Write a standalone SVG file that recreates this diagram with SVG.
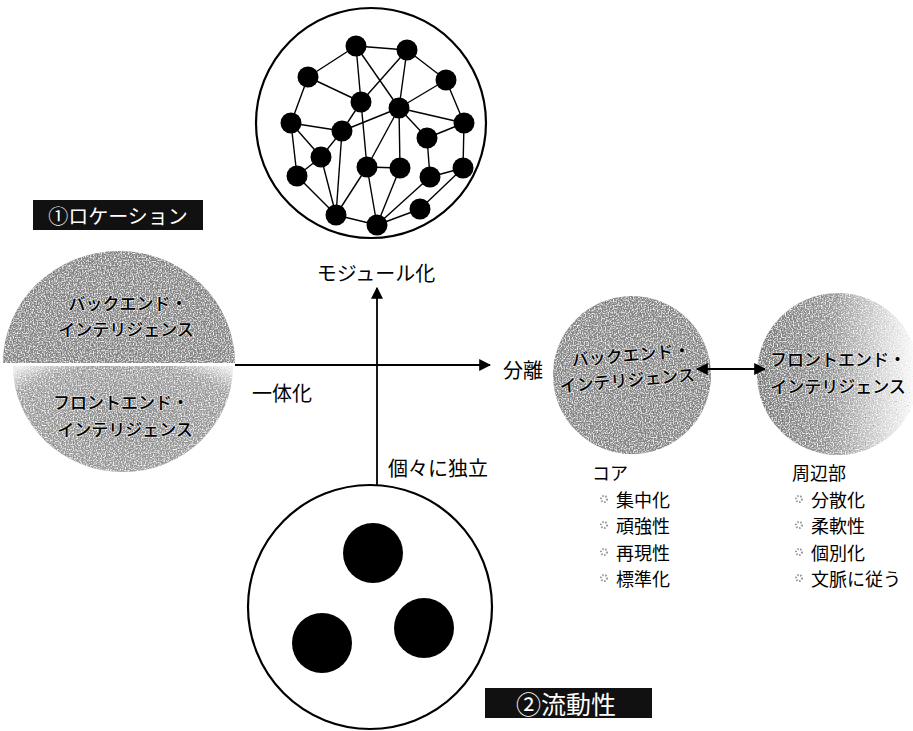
<svg xmlns="http://www.w3.org/2000/svg" width="913" height="731" viewBox="0 0 913 731">
<defs>
<style>
text{font-family:"Noto Sans CJK JP","Noto Sans",sans-serif;fill:#000}
.lbl{font-size:20px;text-anchor:middle;dominant-baseline:central}
.in{font-size:17px;text-anchor:middle;dominant-baseline:central;font-weight:500;paint-order:stroke;stroke:#fff;stroke-width:1.6px;stroke-opacity:0.55}
.li{font-size:18px;dominant-baseline:central}
.box{fill:#111}
.boxt{fill:#fff;text-anchor:middle;dominant-baseline:central}
.ring{fill:#fff;stroke:#000;stroke-width:2.2}
.edge{stroke:#000;stroke-width:1.4}
.dot{fill:#000}
.axis{stroke:#000;stroke-width:1.8;fill:none}
.bul{fill:none;stroke:#999;stroke-width:2;stroke-dasharray:1.5 1.5}
</style>
<filter id="grain" x="0" y="0" width="100%" height="100%">
<feTurbulence type="fractalNoise" baseFrequency="0.75" numOctaves="1" seed="4" result="noise"/>
<feColorMatrix in="noise" type="matrix" values="0 0 0 0 1  0 0 0 0 1  0 0 0 0 1  3.2 0 0 0 -1.45" result="white"/>
<feColorMatrix in="noise" type="matrix" values="0 0 0 0 0  0 0 0 0 0  0 0 0 0 0  -3.2 0 0 0 1.05" result="black"/>
<feComposite in="white" in2="SourceGraphic" operator="in" result="w"/>
<feComposite in="black" in2="SourceGraphic" operator="in" result="b"/>
<feMerge><feMergeNode in="SourceGraphic"/><feMergeNode in="b"/><feMergeNode in="w"/></feMerge>
</filter>
<linearGradient id="fadeR" x1="0" y1="0" x2="1" y2="0">
<stop offset="0" stop-color="#7a7a7a"/>
<stop offset="0.45" stop-color="#939393"/>
<stop offset="0.8" stop-color="#dadada"/>
<stop offset="1" stop-color="#ffffff"/>
</linearGradient>
<radialGradient id="fadeB" cx="0.5" cy="0.55" r="0.8">
<stop offset="0" stop-color="#8a8a8a"/>
<stop offset="0.7" stop-color="#a0a0a0"/>
<stop offset="0.88" stop-color="#e6e6e6"/>
<stop offset="1" stop-color="#ffffff"/>
</radialGradient>
<marker id="arrL" viewBox="0 0 10 10" refX="9" refY="5" markerWidth="12" markerHeight="12" markerUnits="userSpaceOnUse" orient="auto-start-reverse">
<path d="M0,0 L10,5 L0,10 z" fill="#000"/>
</marker>
</defs>

<g id="network">
<circle class="ring" cx="371" cy="123" r="115"/>
<g class="edge">
<line x1="356" y1="46" x2="407" y2="50"/>
<line x1="356" y1="46" x2="308" y2="77"/>
<line x1="356" y1="46" x2="361" y2="102"/>
<line x1="361" y1="102" x2="367" y2="167"/>
<line x1="356" y1="46" x2="399" y2="108"/>
<line x1="407" y1="50" x2="361" y2="102"/>
<line x1="407" y1="50" x2="399" y2="108"/>
<line x1="407" y1="50" x2="446" y2="80"/>
<line x1="308" y1="77" x2="361" y2="102"/>
<line x1="308" y1="77" x2="291" y2="123"/>
<line x1="446" y1="80" x2="399" y2="108"/>
<line x1="446" y1="80" x2="464" y2="123"/>
<line x1="399" y1="108" x2="464" y2="123"/>
<line x1="399" y1="108" x2="342" y2="131"/>
<line x1="399" y1="108" x2="427" y2="138"/>
<line x1="399" y1="108" x2="367" y2="167"/>
<line x1="399" y1="108" x2="400" y2="168"/>
<line x1="361" y1="102" x2="342" y2="131"/>
<line x1="291" y1="123" x2="342" y2="131"/>
<line x1="291" y1="123" x2="321" y2="157"/>
<line x1="291" y1="123" x2="297" y2="176"/>
<line x1="342" y1="131" x2="321" y2="157"/>
<line x1="342" y1="131" x2="336" y2="215"/>
<line x1="464" y1="123" x2="427" y2="138"/>
<line x1="464" y1="123" x2="463" y2="168"/>
<line x1="427" y1="138" x2="430" y2="177"/>
<line x1="321" y1="157" x2="297" y2="176"/>
<line x1="321" y1="157" x2="336" y2="215"/>
<line x1="297" y1="176" x2="336" y2="215"/>
<line x1="367" y1="167" x2="400" y2="168"/>
<line x1="367" y1="167" x2="336" y2="215"/>
<line x1="367" y1="167" x2="377" y2="225"/>
<line x1="400" y1="168" x2="377" y2="225"/>
<line x1="430" y1="177" x2="463" y2="168"/>
<line x1="430" y1="177" x2="377" y2="225"/>
<line x1="463" y1="168" x2="420" y2="209"/>
<line x1="336" y1="215" x2="377" y2="225"/>
<line x1="377" y1="225" x2="420" y2="209"/>
</g>
<g class="dot">
<circle cx="356" cy="46" r="10.5"/>
<circle cx="407" cy="50" r="10.5"/>
<circle cx="308" cy="77" r="10.5"/>
<circle cx="446" cy="80" r="10.5"/>
<circle cx="361" cy="102" r="10.5"/>
<circle cx="399" cy="108" r="10.5"/>
<circle cx="291" cy="123" r="10.5"/>
<circle cx="342" cy="131" r="10.5"/>
<circle cx="464" cy="123" r="10.5"/>
<circle cx="427" cy="138" r="10.5"/>
<circle cx="321" cy="157" r="10.5"/>
<circle cx="297" cy="176" r="10.5"/>
<circle cx="367" cy="167" r="10.5"/>
<circle cx="400" cy="168" r="10.5"/>
<circle cx="430" cy="177" r="10.5"/>
<circle cx="463" cy="168" r="10.5"/>
<circle cx="336" cy="215" r="10.5"/>
<circle cx="377" cy="225" r="10.5"/>
<circle cx="420" cy="209" r="10.5"/>
</g>
<text class="lbl" x="376" y="272" font-size="19">モジュール化</text>
</g>

<g id="location-label">
<rect class="box" x="33" y="200" width="170" height="30"/>
<text class="boxt" x="118" y="215" font-size="20">①ロケーション</text>
</g>

<g id="integrated-back">
<path d="M3,363 A116,112 0 0 1 235,363 Z" fill="#858585" filter="url(#grain)"/>
<text class="in" x="128" y="302">バックエンド・</text>
<text class="in" x="126" y="328">インテリジェンス</text>
</g>

<g id="integrated-front">
<path d="M13,366 A110,106 0 0 0 233,366 Z" fill="url(#fadeB)" filter="url(#grain)"/>
<text class="in" x="121" y="401">フロントエンド・</text>
<text class="in" x="125" y="428">インテリジェンス</text>
</g>

<g id="axis-labels">
<text class="lbl" x="282" y="392">一体化</text>
<text class="lbl" x="438" y="467">個々に独立</text>
<text class="lbl" x="523" y="369">分離</text>
</g>

<g id="sep-back">
<circle cx="632" cy="375" r="79" fill="#858585" filter="url(#grain)"/>
<g transform="rotate(-5 628 366)">
<text class="in" x="632" y="354" font-size="16">バックエンド・</text>
<text class="in" x="626" y="379" font-size="16">インテリジェンス</text>
</g>
</g>

<g id="sep-front">
<circle cx="838" cy="374" r="81" fill="url(#fadeR)" filter="url(#grain)"/>
<text class="in" x="838" y="358" font-size="16.5">フロントエンド・</text>
<text class="in" x="838" y="385" font-size="16.5">インテリジェンス</text>
</g>

<g id="core-list">
<text class="li" x="592" y="472">コア</text>
<circle class="bul" cx="604" cy="499" r="3"/>
<text class="li" x="616" y="498.5">集中化</text>
<circle class="bul" cx="604" cy="525" r="3"/>
<text class="li" x="616" y="525">頑強性</text>
<circle class="bul" cx="604" cy="552" r="3"/>
<text class="li" x="616" y="551.5">再現性</text>
<circle class="bul" cx="604" cy="578" r="3"/>
<text class="li" x="616" y="578">標準化</text>
</g>

<g id="periphery-list">
<text class="li" x="792" y="472">周辺部</text>
<circle class="bul" cx="799" cy="499" r="3"/>
<text class="li" x="811" y="498.5">分散化</text>
<circle class="bul" cx="799" cy="525" r="3"/>
<text class="li" x="811" y="525">柔軟性</text>
<circle class="bul" cx="799" cy="552" r="3"/>
<text class="li" x="811" y="551.5">個別化</text>
<circle class="bul" cx="799" cy="578" r="3"/>
<text class="li" x="811" y="578">文脈に従う</text>
</g>

<g id="independent">
<circle class="ring" cx="370" cy="607" r="122"/>
<circle class="dot" cx="373" cy="553" r="30"/>
<circle class="dot" cx="322" cy="643" r="30"/>
<circle class="dot" cx="424" cy="628" r="30"/>
</g>

<g id="fluidity-label">
<rect class="box" x="485" y="688" width="167" height="30"/>
<text class="boxt" x="566" y="703" font-size="25">②流動性</text>
</g>

<g id="connectors">
<line class="axis" x1="235" y1="365" x2="490" y2="365" marker-end="url(#arrL)"/>
<line class="axis" x1="377" y1="485" x2="377" y2="288" marker-end="url(#arrL)"/>
<line class="axis" x1="697" y1="369" x2="765" y2="369" stroke-width="1.4" marker-start="url(#arrL)" marker-end="url(#arrL)"/>
</g>
</svg>
